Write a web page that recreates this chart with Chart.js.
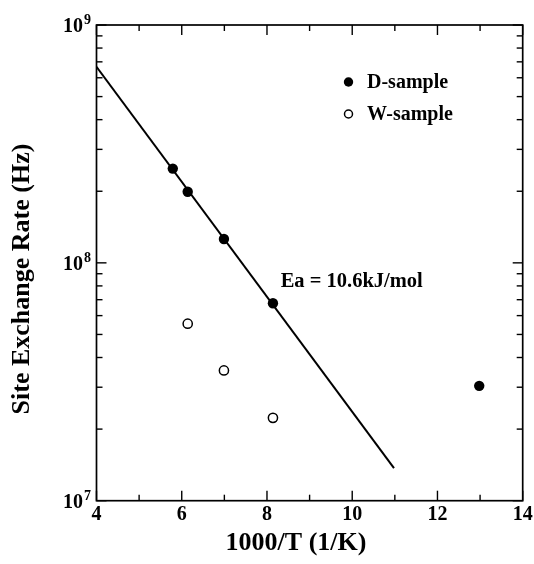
<!DOCTYPE html>
<html>
<head>
<meta charset="utf-8">
<script src="https://cdn.jsdelivr.net/npm/chart.js@4/dist/chart.umd.min.js"></script>
<style>
  html, body { margin: 0; padding: 0; background: #fff; }
  #wrap { width: 534px; height: 564px; }
</style>
</head>
<body>
<div id="wrap"><canvas id="rate-chart"></canvas></div>
<script>
// data
const dX = [5.79, 6.14, 6.99, 8.14, 12.98];
const dY = [2.49e8, 1.99e8, 1.26e8, 6.76e7, 3.04e7];
const wX = [6.14, 6.99, 8.14];
const wY = [5.55e7, 3.53e7, 2.23e7];
const fitX = [4, 10.98];
const fitY = [6.67e8, 1.37e7];

const xMajorTicks = [4, 6, 8, 10, 12, 14];
const xMinorTicks = [5, 7, 9, 11, 13];
const yExponents = [7, 8, 9];
const yMinorSteps = [2, 3, 4, 5, 6, 7, 8, 9];

const seriesLabels = ['D-sample', 'W-sample'];
const eaText = 'Ea = 10.6kJ/mol';

const SERIF = '"Liberation Serif", "Times New Roman", serif';

const toPoints = (xs, ys) => xs.map((v, i) => ({ x: v, y: ys[i] }));

// frame, inward ticks, labels, legend
const figurePlugin = {
    id: 'figure',
    afterDatasetsDraw(chart) {
        const { ctx, chartArea: a, scales: { x, y } } = chart;
        ctx.save();
        ctx.strokeStyle = '#000';
        ctx.fillStyle = '#000';

        ctx.lineWidth = 1.4;
        const seg = (x1, y1, x2, y2) => { ctx.beginPath(); ctx.moveTo(x1, y1); ctx.lineTo(x2, y2); ctx.stroke(); };

        xMajorTicks.forEach(v => {
            const px = x.getPixelForValue(v);
            seg(px, a.bottom, px, a.bottom - 10);
            seg(px, a.top, px, a.top + 10);
        });
        xMinorTicks.forEach(v => {
            const px = x.getPixelForValue(v);
            seg(px, a.bottom, px, a.bottom - 6);
            seg(px, a.top, px, a.top + 6);
        });
        yExponents.forEach((e, i) => {
            const py = y.getPixelForValue(Math.pow(10, e));
            seg(a.left, py, a.left + 10, py);
            seg(a.right, py, a.right - 10, py);
            if (i === yExponents.length - 1) return;
            yMinorSteps.forEach(m => {
                const pm = y.getPixelForValue(m * Math.pow(10, e));
                seg(a.left, pm, a.left + 6, pm);
                seg(a.right, pm, a.right - 6, pm);
            });
        });

        ctx.lineWidth = 1.7;
        ctx.strokeRect(a.left, a.top, a.right - a.left, a.bottom - a.top);

        ctx.textBaseline = 'alphabetic';

        // x tick labels
        ctx.font = 'bold 20px ' + SERIF;
        ctx.textAlign = 'center';
        xMajorTicks.forEach(v => {
            ctx.fillText(String(v), x.getPixelForValue(v), a.bottom + 19.5);
        });

        // y tick labels 10^n
        yExponents.forEach(e => {
            const py = y.getPixelForValue(Math.pow(10, e));
            ctx.font = 'bold 20px ' + SERIF;
            ctx.textAlign = 'right';
            ctx.fillText('10', a.left - 13.5, py + 7);
            ctx.font = 'bold 14px ' + SERIF;
            ctx.textAlign = 'left';
            ctx.fillText(String(e), a.left - 12.5, py - 1);
        });

        // axis titles
        ctx.font = 'bold 26px ' + SERIF;
        ctx.textAlign = 'center';
        ctx.fillText('1000/T (1/K)', 296, 550);
        ctx.save();
        ctx.translate(29, 279);
        ctx.rotate(-Math.PI / 2);
        ctx.fillText('Site Exchange Rate (Hz)', 0, 0);
        ctx.restore();

        // annotation
        ctx.font = 'bold 20.5px ' + SERIF;
        ctx.textAlign = 'left';
        ctx.fillText(eaText, 280.7, 287);

        // legend
        ctx.font = 'bold 20px ' + SERIF;
        ctx.beginPath();
        ctx.arc(348.5, 82, 4.7, 0, Math.PI * 2);
        ctx.fill();
        ctx.fillText(seriesLabels[0], 367, 88);
        ctx.beginPath();
        ctx.arc(348.5, 114, 4, 0, Math.PI * 2);
        ctx.fillStyle = '#fff';
        ctx.fill();
        ctx.lineWidth = 1.5;
        ctx.stroke();
        ctx.fillStyle = '#000';
        ctx.fillText(seriesLabels[1], 367, 120);

        ctx.restore();
    }
};

new Chart(document.getElementById('rate-chart').getContext('2d'), {
    type: 'scatter',
    data: {
        datasets: [
            {
                label: 'fit',
                data: toPoints(fitX, fitY),
                showLine: true,
                borderColor: '#000',
                borderWidth: 2,
                pointRadius: 0,
                order: 3
            },
            {
                label: seriesLabels[0],
                data: toPoints(dX, dY),
                pointRadius: 5.2,
                pointBackgroundColor: '#000',
                pointBorderColor: '#000',
                pointBorderWidth: 0,
                order: 1
            },
            {
                label: seriesLabels[1],
                data: toPoints(wX, wY),
                pointRadius: 4.6,
                pointBackgroundColor: '#fff',
                pointBorderColor: '#000',
                pointBorderWidth: 1.5,
                order: 2
            }
        ]
    },
    options: {
        responsive: true,
        maintainAspectRatio: false,
        animation: false,
        layout: { padding: { top: 25, right: 11.3, left: 0, bottom: 0 } },
        plugins: { legend: { display: false }, tooltip: { enabled: false } },
        scales: {
            x: {
                type: 'linear',
                min: 4,
                max: 14,
                grid: { display: false },
                border: { display: false },
                ticks: { display: false },
                afterFit: s => { s.height = 63.3; }
            },
            y: {
                type: 'logarithmic',
                min: 1e7,
                max: 1e9,
                grid: { display: false },
                border: { display: false },
                ticks: { display: false },
                afterFit: s => { s.width = 96.5; }
            }
        }
    },
    plugins: [figurePlugin]
});
</script>
</body>
</html>
